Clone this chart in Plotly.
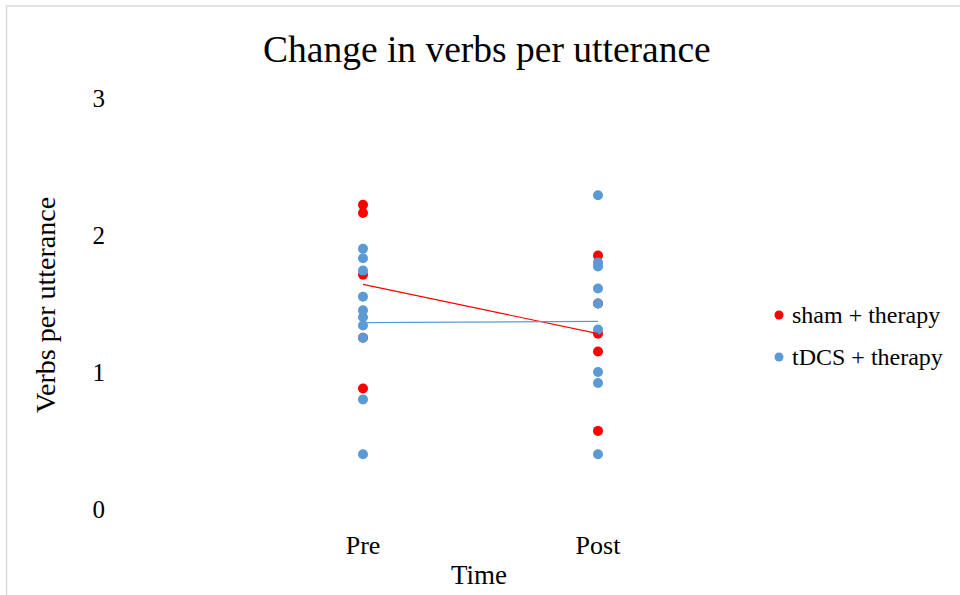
import plotly.graph_objects as go

time_labels = ["Pre", "Post"]
time_pos = [1, 2]

sham_pre = [2.22, 2.16, 1.71, 1.25, 0.88]
sham_post = [1.85, 1.50, 1.28, 1.15, 0.57]
tdcs_pre = [1.90, 1.83, 1.74, 1.55, 1.45, 1.40, 1.34, 1.25, 0.80, 0.40]
tdcs_post = [2.29, 1.80, 1.77, 1.61, 1.50, 1.31, 1.00, 0.92, 0.40]
sham_mean = [1.64, 1.28]
tdcs_mean = [1.36, 1.37]

y_ticks = [0, 1, 2, 3]
series_names = ["sham + therapy", "tDCS + therapy"]

RED = "#FF0000"
BLUE = "#5B9BD5"
FONT = "Liberation Serif, Times New Roman, serif"

fig = go.Figure()

fig.add_trace(go.Scatter(
    x=[time_pos[0]] * len(sham_pre) + [time_pos[1]] * len(sham_post),
    y=sham_pre + sham_post, mode="markers", name=series_names[0],
    marker=dict(color=RED, size=10)))
fig.add_trace(go.Scatter(
    x=[time_pos[0]] * len(tdcs_pre) + [time_pos[1]] * len(tdcs_post),
    y=tdcs_pre + tdcs_post, mode="markers", name=series_names[1],
    marker=dict(color=BLUE, size=10)))
fig.add_trace(go.Scatter(x=time_pos, y=sham_mean, mode="lines",
                         line=dict(color=RED, width=1.2), showlegend=False))
fig.add_trace(go.Scatter(x=time_pos, y=tdcs_mean, mode="lines",
                         line=dict(color=BLUE, width=1.2), showlegend=False))

W, H = 960, 595
L, T = 128, 98
pw, ph = 705, 411
R, B = W - L - pw, H - T - ph

def px(xs):
    return (xs - L) / pw

def py(ys):
    return (H - B - ys) / ph

fig.update_layout(
    width=W, height=H,
    margin=dict(l=L, r=R, t=T, b=B),
    paper_bgcolor="white", plot_bgcolor="white",
    font=dict(family=FONT, color="black", size=24),
    showlegend=False,
    xaxis=dict(range=[0, 3], tickvals=time_pos, ticktext=time_labels,
               showgrid=False, zeroline=False, showline=False,
               ticks="outside", ticklen=13, tickcolor="rgba(0,0,0,0)",
               tickfont=dict(size=26)),
    yaxis=dict(range=[0, 3], tickvals=y_ticks, showgrid=False, zeroline=False,
               showline=False, ticks="outside", ticklen=17,
               tickcolor="rgba(0,0,0,0)", tickfont=dict(size=25)),
)

fig.add_annotation(text="Change in verbs per utterance", x=px(487), y=py(50),
                   xref="paper", yref="paper", showarrow=False,
                   font=dict(size=37.5), xanchor="center", yanchor="middle")
fig.add_annotation(text="Time", x=px(479), y=py(575), xref="paper", yref="paper",
                   showarrow=False, font=dict(size=27),
                   xanchor="center", yanchor="middle")
fig.add_annotation(text="Verbs per utterance", x=px(45), y=py(305),
                   xref="paper", yref="paper", showarrow=False, textangle=-90,
                   font=dict(size=28), xanchor="center", yanchor="middle")

# legend drawn as marker shapes + text
leg_y = [315, 357]
leg_col = [RED, BLUE]
for name, ly, col in zip(series_names, leg_y, leg_col):
    fig.add_shape(type="circle", xref="paper", yref="paper",
                  xsizemode="pixel", ysizemode="pixel",
                  xanchor=px(779), yanchor=py(ly),
                  x0=-4.5, x1=4.5, y0=-4.5, y1=4.5,
                  fillcolor=col, line=dict(width=0))
    fig.add_annotation(text=name, x=px(790), y=py(ly), xref="paper",
                       yref="paper", showarrow=False, font=dict(size=24),
                       xanchor="left", yanchor="middle")

fig.add_shape(type="rect", xref="paper", yref="paper",
              x0=px(6.5), x1=px(W + 20), y0=py(H + 20), y1=py(6),
              line=dict(color="#D9D9D9", width=1.5), fillcolor="rgba(0,0,0,0)",
              layer="below")

fig.write_html("out.html",
               config={"displayModeBar": False},
               post_script="document.body.style.margin='0px';"
                           "document.body.style.overflow='hidden';")
